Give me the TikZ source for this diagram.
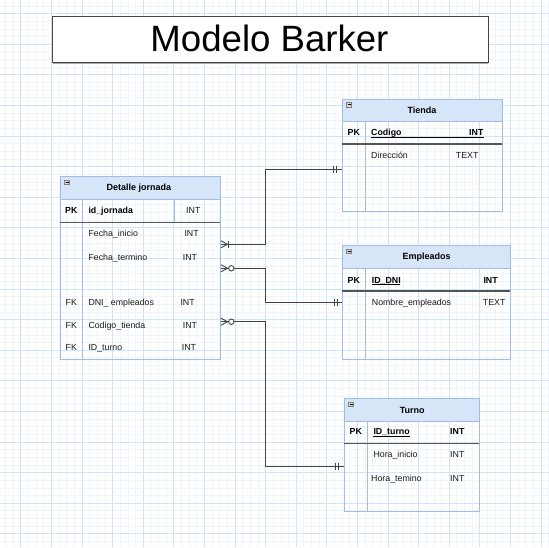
\documentclass[tikz,border=0pt]{standalone}
\usepackage{fontspec}
\setmainfont{Liberation Sans}
\definecolor{minorc}{HTML}{EEF5FC}
\definecolor{majorc}{HTML}{D0E4F6}
\definecolor{tblc}{HTML}{A3BCE2}
\definecolor{hdrc}{HTML}{D6E5F8}
\definecolor{pkc}{HTML}{555555}
\definecolor{connc}{HTML}{444444}
\definecolor{txtc}{HTML}{1A1A1A}
\definecolor{iconc}{HTML}{D8D8D8}
\tikzset{
  tbl/.style={draw=tblc, line width=0.9pt, rectangle, inner sep=0pt, outer sep=0pt, anchor=north west},
  hdr/.style={fill=hdrc, draw=tblc, line width=0.9pt, rectangle, inner sep=0pt, outer sep=0pt, anchor=north west},
  htxt/.style={font=\fontsize{9}{10}\selectfont\bfseries, text=black, inner sep=0pt, anchor=base},
  ktxt/.style={font=\fontsize{8.8}{10}\selectfont\bfseries, text=black, inner sep=0pt, anchor=base west},
  txt/.style={font=\fontsize{8.8}{10}\selectfont, inner sep=0pt, anchor=base west, text=txtc},
  divline/.style={draw=tblc, line width=0.9pt},
  pkline/.style={draw=pkc, line width=1.3pt},
  conn/.style={draw=connc, line width=0.9pt},
  uline/.style={draw=black, line width=0.8pt},
  iconbox/.style={fill=iconc, draw=gray, line width=0.5pt},
}
\begin{document}
\begin{tikzpicture}[x=1pt,y=-1pt]
\useasboundingbox (0,0) rectangle (549,547);
\fill[white] (0,0) rectangle (549,547);
% grid
\foreach \i in {0,...,73} {
  \draw[minorc, line width=0.6pt] ({-2.25+7.65*\i},0) -- ({-2.25+7.65*\i},547);
  \draw[minorc, line width=0.6pt] (0,{-1.8+7.65*\i}) -- (549,{-1.8+7.65*\i});
}
\foreach \k in {-1,...,18} {
  \draw[majorc, line width=0.8pt] ({20.7+30.6*\k},0) -- ({20.7+30.6*\k},547);
  \draw[majorc, line width=0.8pt] (0,{13.5+30.6*\k}) -- (549,{13.5+30.6*\k});
}

% title
\draw[gray!70, line width=1.5pt] (53,62.8) -- (488,62.8);
\node[draw=connc, fill=white, line width=1.2pt, rectangle, inner sep=0pt, anchor=north west,
      minimum width=436pt, minimum height=46pt] (title) at (52,16) {};
\node[font=\fontsize{36.6}{40}\selectfont, inner sep=0pt, anchor=base] (titletxt) at (269.5,51.5) {Modelo Barker};

% ===== Detalle jornada =====
\node[hdr, minimum width=160pt, minimum height=22.6pt] (djh) at (60,176.7) {};
\node[tbl, minimum width=160pt, minimum height=182.6pt] (dj) at (60,176.7) {};
\draw[iconbox] (64.5,180.2) rectangle (69.5,184.7);
\draw[black, line width=0.5pt] (65.5,182.45) -- (68.5,182.45);
\node[htxt] (djt) at (139,190.3) {Detalle jornada};
\draw[divline] (82.3,199.3) -- (82.3,359.3);
\draw[divline] (174,199.3) -- (174,222.3);
\draw[pkline] (60,222.3) -- (220,222.3);
\node[ktxt] (djpk) at (65,213.9) {PK};
\node[ktxt] (djid) at (88.3,213.9) {id\_jornada};
\node[txt] (djidt) at (186,213.9) {INT};
\node[txt] (dj1) at (88.3,236.5) {Fecha\_inicio};
\node[txt] (dj1t) at (184.3,236.5) {INT};
\node[txt] (dj2) at (88.3,260.5) {Fecha\_termino};
\node[txt] (dj2t) at (182.7,260.5) {INT};
\node[txt] (dj3k) at (65.5,305.9) {FK};
\node[txt] (dj3) at (88.3,305.9) {DNI\_ empleados};
\node[txt] (dj3t) at (180.3,305.9) {INT};
\node[txt] (dj4k) at (65.5,328.9) {FK};
\node[txt] (dj4) at (88.3,328.9) {Codigo\_tienda};
\node[txt] (dj4t) at (182.7,328.9) {INT};
\node[txt] (dj5k) at (65.5,350.9) {FK};
\node[txt] (dj5) at (88.3,350.9) {ID\_turno};
\node[txt] (dj5t) at (181.7,350.9) {INT};

% ===== Tienda =====
\node[hdr, minimum width=160pt, minimum height=22.7pt] (tih) at (342.3,99) {};
\node[tbl, minimum width=160pt, minimum height=112.7pt] (ti) at (342.3,99) {};
\draw[iconbox] (346.5,102.3) rectangle (351.5,106.8);
\draw[black, line width=0.5pt] (347.5,104.55) -- (350.5,104.55);
\node[htxt] (tit) at (422,113.3) {Tienda};
\draw[divline] (365.7,121.7) -- (365.7,211.7);
\draw[pkline] (342.3,144) -- (502.3,144);
\node[ktxt] (tipk) at (347.5,135.9) {PK};
\node[ktxt] (tiid) at (371,135.9) {Codigo};
\node[ktxt] (tiidt) at (469,135.9) {INT};
\draw[uline] (371,137.6) -- (483.5,137.6);
\node[txt] (ti1) at (371,158.9) {Dirección};
\node[txt] (ti1t) at (455.7,158.9) {TEXT};

% ===== Empleados =====
\node[hdr, minimum width=167.7pt, minimum height=22.6pt] (emh) at (342.3,245.7) {};
\node[tbl, minimum width=167.7pt, minimum height=113.6pt] (em) at (342.3,245.7) {};
\draw[iconbox] (346.5,249.2) rectangle (351.5,253.7);
\draw[black, line width=0.5pt] (347.5,251.45) -- (350.5,251.45);
\node[htxt] (emt) at (426.7,259.9) {Empleados};
\draw[divline] (365.7,268.3) -- (365.7,359.3);
\draw[pkline] (342.3,291) -- (510,291);
\node[ktxt] (empk) at (347.5,283.2) {PK};
\node[ktxt] (emid) at (371.7,283.2) {ID\_DNI};
\node[ktxt] (emidt) at (483.3,283.2) {INT};
\draw[uline] (371.7,284.8) -- (400.3,284.8);
\node[txt] (em1) at (371.7,305.5) {Nombre\_empleados};
\node[txt] (em1t) at (482.7,305.5) {TEXT};

% ===== Turno =====
\node[hdr, minimum width=135pt, minimum height=23.4pt] (tuh) at (344.3,398.3) {};
\node[tbl, minimum width=135pt, minimum height=113.4pt] (tu) at (344.3,398.3) {};
\draw[iconbox] (348.5,401.8) rectangle (353.5,406.3);
\draw[black, line width=0.5pt] (349.5,404.05) -- (352.5,404.05);
\node[htxt] (tut) at (412.3,413.3) {Turno};
\draw[divline] (367.3,421.7) -- (367.3,511.7);
\draw[pkline] (344.3,443.3) -- (479.3,443.3);
\node[ktxt] (tupk) at (349.5,434.9) {PK};
\node[ktxt] (tuid) at (373.3,434.9) {ID\_turno};
\node[ktxt] (tuidt) at (450,434.9) {INT};
\draw[uline] (373.3,436.6) -- (410.3,436.6);
\node[txt] (tu1) at (373.3,457.2) {Hora\_inicio};
\node[txt] (tu1t) at (450,457.2) {INT};
\node[txt] (tu2) at (371,481.5) {Hora\_temino};
\node[txt] (tu2t) at (450,481.5) {INT};

% ===== connectors =====
% 1: Detalle -> Tienda
\coordinate (c1s) at (220.5,244.3);
\coordinate (c1e) at (342.3,169);
\draw[conn] (c1s) -- (265.7,244.3) |- (c1e);
\draw[conn] (221,240.8) -- (227.5,244.3) -- (221,247.8);
\draw[conn] (228.5,240.8) -- (228.5,247.8);
\draw[conn] (333.3,165.5) -- (333.3,172.5);
\draw[conn] (336.3,165.5) -- (336.3,172.5);

% 2: Detalle -> Empleados
\coordinate (c2s) at (220.5,268.3);
\coordinate (c2e) at (342.3,302.7);
\draw[conn] (c2s) -- (265.7,268.3) |- (c2e);
\draw[conn] (221,264.8) -- (227.5,268.3) -- (221,271.8);
\draw[conn, fill=white] (231.3,268.3) circle (2.7pt);
\draw[conn] (334.8,299.2) -- (334.8,306.2);
\draw[conn] (337.8,299.2) -- (337.8,306.2);

% 3: Detalle -> Turno
\coordinate (c3s) at (220.5,321.7);
\coordinate (c3e) at (344.3,466);
\draw[conn] (c3s) -- (265.7,321.7) |- (c3e);
\draw[conn] (221,318.2) -- (227.5,321.7) -- (221,325.2);
\draw[conn, fill=white] (231.3,321.7) circle (2.7pt);
\draw[conn] (335.5,462.5) -- (335.5,469.5);
\draw[conn] (338.5,462.5) -- (338.5,469.5);
\end{tikzpicture}
\end{document}
